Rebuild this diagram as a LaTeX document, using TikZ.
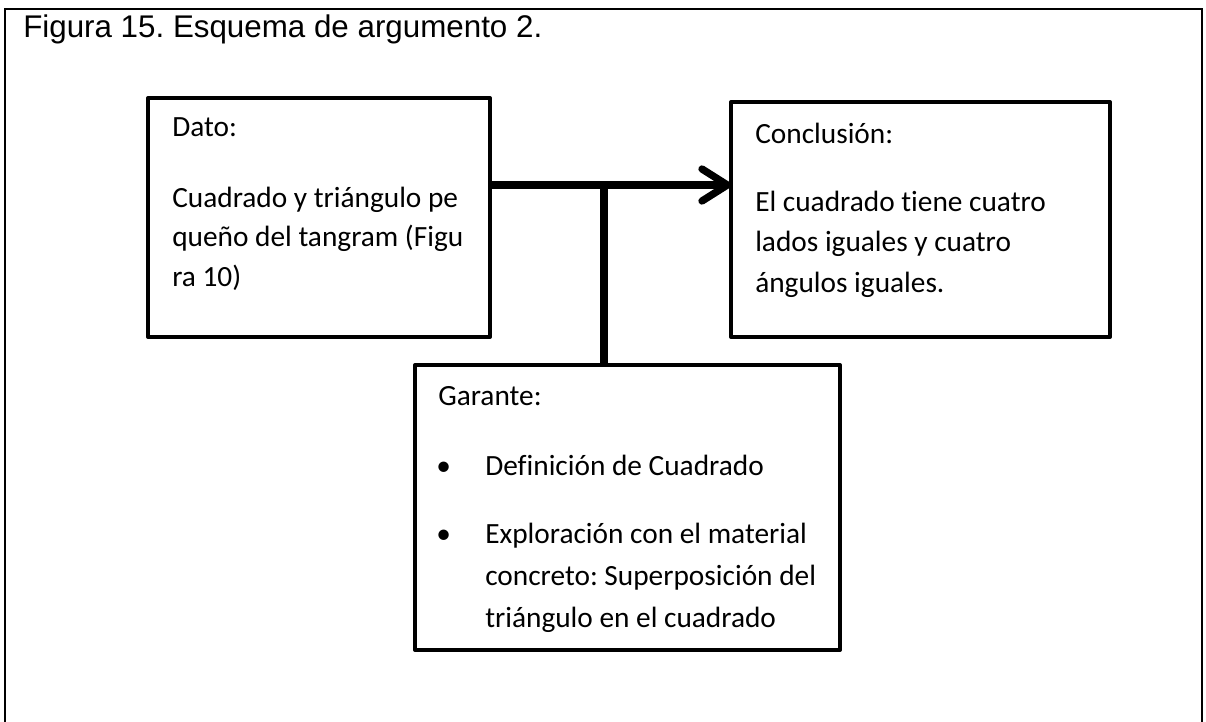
\documentclass[tikz,border=0pt]{standalone}
\usepackage{fontspec}
\setmainfont{Carlito}[Ligatures=NoCommon]
\newfontfamily\arialfont{Liberation Sans}
\usetikzlibrary{arrows.meta}
\frenchspacing
\begin{document}
\begin{tikzpicture}[x=0.75pt,y=-0.75pt,
  box/.style={draw, line width=3pt, inner sep=0pt, outer sep=0pt, line join=round},
  frame/.style={draw, line width=2pt},
  conn/.style={draw, line width=5.5pt},
  txt/.style={anchor=base west, inner sep=0pt, font=\fontsize{22}{26}\selectfont},
  ttl/.style={anchor=base west, inner sep=0pt, font=\arialfont\fontsize{23.5}{28}\selectfont}]
\useasboundingbox (0,0) rectangle (1206,721);
\fill[white] (0,0) rectangle (1206,721);
% outer frame
\draw[frame] (5,725) -- (5,9) -- (1202,9) -- (1202,725);
\node[ttl] (title) at (23,37) {Figura 15. Esquema de argumento 2.};
% boxes
\node[box, minimum width=256.5pt, minimum height=179.25pt] (dato) at (319,217.5) {};
\node[box, minimum width=284.25pt, minimum height=176.25pt] (concl) at (920.5,219.5) {};
\node[box, minimum width=318.75pt, minimum height=213.75pt] (garante) at (627.5,507.5) {};
% texts
\node[txt] (d1) at (172,136) {Dato:};
\node[txt] (d2) at (172,207) {Cuadrado y triángulo pe};
\node[txt] (d3) at (172,246) {queño del tangram (Figu};
\node[txt] (d4) at (172,286) {ra 10)};
\node[txt] (c1) at (755,143) {Conclusión:};
\node[txt] (c2) at (755,211) {El cuadrado tiene cuatro};
\node[txt] (c3) at (755,251) {lados iguales y cuatro};
\node[txt] (c4) at (755,292) {ángulos iguales.};
\node[txt] (g1) at (438,405) {Garante:};
\node[txt] (b1) at (436,475) {•};
\node[txt] (g2) at (485,475) {Definición de Cuadrado};
\node[txt] (b2) at (436,543) {•};
\node[txt] (g3) at (485,543) {Exploración con el material};
\node[txt] (g4) at (485,585) {concreto: Superposición del};
\node[txt] (g5) at (485,627) {triángulo en el cuadrado};
% connectors
\coordinate (j) at (604,185);
\draw[conn, -{Straight Barb[round, length=19pt, width=24pt]}] (dato.east |- j) -- (concl.west |- j);
\draw[conn] (j) -- (j |- garante.north);
\end{tikzpicture}
\end{document}
